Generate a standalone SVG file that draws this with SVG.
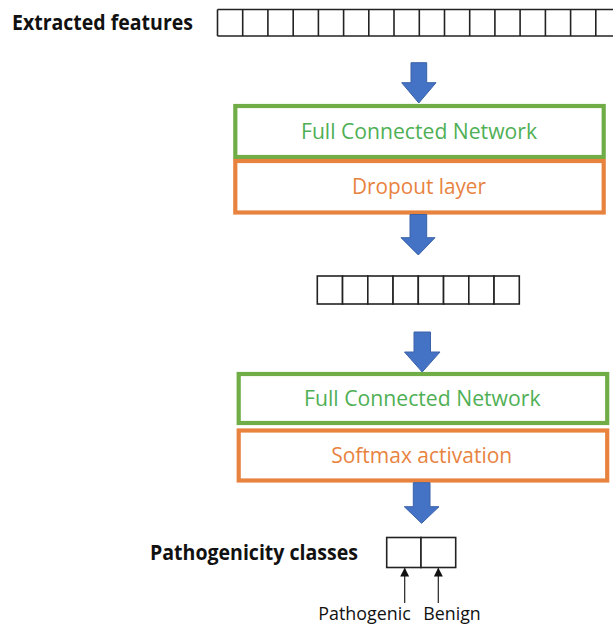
<svg xmlns="http://www.w3.org/2000/svg" width="613" height="629" viewBox="0 0 613 629">
  <defs>
    <style>
      .cell { fill: #ffffff; stroke: #222222; stroke-width: 1.6; }
      .rowline { stroke: #222222; stroke-width: 1.6; }
      .fcn { fill: #ffffff; stroke: #70AD47; stroke-width: 4.2; }
      .ora { fill: #ffffff; stroke: #E8833F; stroke-width: 4.2; }
      .ttl { font-family: "Open Sans", "Noto Sans", sans-serif; font-weight: bold; font-size: 21px; fill: #111111; }
      .gtxt { font-family: "Open Sans", "Noto Sans", sans-serif; font-size: 22px; fill: #4FAF55; text-anchor: middle; }
      .otxt { font-family: "Open Sans", "Noto Sans", sans-serif; font-size: 22px; fill: #E8833F; text-anchor: middle; }
      .lbl { font-family: "Open Sans", "Noto Sans", sans-serif; font-size: 19px; fill: #111111; }
      .bigarrow { fill: #4472C4; stroke: #3A62A8; stroke-width: 1; }
      .thin { stroke: #222222; stroke-width: 1.2; fill: none; }
    </style>
    <marker id="tip" viewBox="0 0 10 10" refX="9" refY="5" markerWidth="9" markerHeight="9" markerUnits="userSpaceOnUse" orient="auto">
      <path d="M0,0 L10,5 L0,10 z" fill="#111111"/>
    </marker>
  </defs>

  <!-- input feature vector -->
  <g id="extracted-features">
    <text class="ttl" x="12" y="30" textLength="181" lengthAdjust="spacingAndGlyphs">Extracted features</text>
    <line class="rowline" x1="217.5" y1="9.5" x2="613" y2="9.5"/>
    <line class="rowline" x1="217.5" y1="36" x2="613" y2="36"/>
    <g class="rowline">
      <line x1="217.5" y1="9.5" x2="217.5" y2="36"/>
      <line x1="242.7" y1="9.5" x2="242.7" y2="36"/>
      <line x1="267.9" y1="9.5" x2="267.9" y2="36"/>
      <line x1="293.2" y1="9.5" x2="293.2" y2="36"/>
      <line x1="318.4" y1="9.5" x2="318.4" y2="36"/>
      <line x1="343.6" y1="9.5" x2="343.6" y2="36"/>
      <line x1="368.8" y1="9.5" x2="368.8" y2="36"/>
      <line x1="394.0" y1="9.5" x2="394.0" y2="36"/>
      <line x1="419.3" y1="9.5" x2="419.3" y2="36"/>
      <line x1="444.5" y1="9.5" x2="444.5" y2="36"/>
      <line x1="469.7" y1="9.5" x2="469.7" y2="36"/>
      <line x1="494.9" y1="9.5" x2="494.9" y2="36"/>
      <line x1="520.1" y1="9.5" x2="520.1" y2="36"/>
      <line x1="545.4" y1="9.5" x2="545.4" y2="36"/>
      <line x1="570.6" y1="9.5" x2="570.6" y2="36"/>
      <line x1="595.8" y1="9.5" x2="595.8" y2="36"/>
    </g>
  </g>

  <!-- first dense block -->
  <g id="fcn-1">
    <rect class="fcn" x="235.3" y="106" width="368.4" height="51"/>
    <text class="gtxt" x="419" y="139" textLength="236" lengthAdjust="spacingAndGlyphs">Full Connected Network</text>
  </g>
  <g id="dropout">
    <rect class="ora" x="235.3" y="161" width="368.4" height="51.5"/>
    <text class="otxt" x="419" y="194" textLength="134" lengthAdjust="spacingAndGlyphs">Dropout layer</text>
  </g>

  <!-- hidden vector -->
  <g id="hidden-vector">
    <rect class="cell" x="317.3" y="276" width="25.25" height="28"/>
    <rect class="cell" x="342.55" y="276" width="25.25" height="28"/>
    <rect class="cell" x="367.8" y="276" width="25.25" height="28"/>
    <rect class="cell" x="393.05" y="276" width="25.25" height="28"/>
    <rect class="cell" x="418.3" y="276" width="25.25" height="28"/>
    <rect class="cell" x="443.55" y="276" width="25.25" height="28"/>
    <rect class="cell" x="468.8" y="276" width="25.25" height="28"/>
    <rect class="cell" x="494.05" y="276" width="25.25" height="28"/>
  </g>

  <!-- second dense block -->
  <g id="fcn-2">
    <rect class="fcn" x="238.7" y="374" width="368.5" height="49"/>
    <text class="gtxt" x="422.3" y="406" textLength="236.5" lengthAdjust="spacingAndGlyphs">Full Connected Network</text>
  </g>
  <g id="softmax">
    <rect class="ora" x="238.7" y="430.5" width="368.5" height="50"/>
    <text class="otxt" x="421.7" y="463" textLength="181" lengthAdjust="spacingAndGlyphs">Softmax activation</text>
  </g>

  <!-- output classes -->
  <g id="pathogenicity-classes">
    <text class="ttl" x="150" y="560" textLength="208" lengthAdjust="spacingAndGlyphs">Pathogenicity classes</text>
    <rect class="cell" x="386.7" y="537.5" width="34.3" height="30"/>
    <rect class="cell" x="421" y="537.5" width="34.7" height="30"/>
  </g>
  <g id="label-pathogenic">
    <text class="lbl" x="318.3" y="620" textLength="92.4" lengthAdjust="spacingAndGlyphs">Pathogenic</text>
  </g>
  <g id="label-benign">
    <text class="lbl" x="423.3" y="620" textLength="57.4" lengthAdjust="spacingAndGlyphs">Benign</text>
  </g>

  <!-- flow connectors -->
  <g id="connectors">
    <path class="bigarrow" d="M411,62.7 H426.7 V82.7 H436 L418.8,103 L401.7,82.7 H411 Z"/>
    <path class="bigarrow" d="M410,214.5 H426.7 V237.7 H435 L418.3,255 L401,237.7 H410 Z"/>
    <path class="bigarrow" d="M414,332 H430.5 V352 H440 L422.2,372 L404.5,352 H414 Z"/>
    <path class="bigarrow" d="M413.3,482.7 H430 V506.7 H439 L421.6,523.3 L404.3,506.7 H413.3 Z"/>
    <line class="thin" x1="404.7" y1="603" x2="404.7" y2="568.5" marker-end="url(#tip)"/>
    <line class="thin" x1="438.3" y1="603" x2="438.3" y2="568.5" marker-end="url(#tip)"/>
  </g>
</svg>
